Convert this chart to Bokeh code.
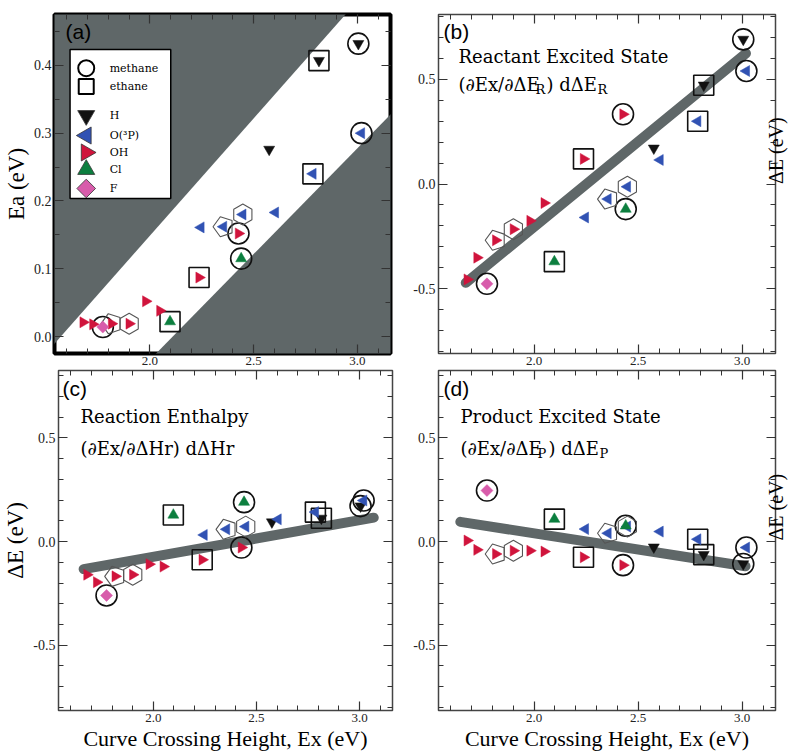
import math
from bokeh.plotting import figure
from bokeh.layouts import column, row
from bokeh.models import (Range1d, LinearAxis, SingleIntervalTicker, PrintfTickFormatter,
                          Label, ColumnDataSource, Grid)
from bokeh.embed import file_html
from bokeh.resources import INLINE

# ---------------- data ----------------
# 20 reactions; Ex = curve crossing height (eV), shared by all panels
ex = [3.005, 2.815, 2.575, 3.020, 2.786, 2.605, 2.448, 2.355, 2.246, 2.427,
      2.440, 2.237, 1.980, 2.048, 2.097, 1.900, 1.815, 1.725, 1.678, 1.773]
species = ["H", "H", "H", "O(3P)", "O(3P)", "O(3P)", "O(3P)", "O(3P)", "O(3P)", "OH",
           "Cl", "OH", "OH", "OH", "Cl", "OH", "OH", "OH", "OH", "F"]
alkane = ["methane", "ethane", "", "methane", "ethane", "", "hexagon", "pentagon", "", "methane",
          "methane", "ethane", "", "", "ethane", "hexagon", "pentagon", "", "", "methane"]
ea = [0.432, 0.407, 0.276, 0.300, 0.240, 0.183, 0.180, 0.162, 0.161, 0.152,
      0.115, 0.087, 0.052, 0.038, 0.022, 0.019, 0.019, 0.018, 0.021, 0.014]
de_react = [0.691, 0.472, 0.171, 0.540, 0.300, 0.115, -0.013, -0.072, -0.160, 0.333,
            -0.120, 0.120, -0.176, -0.091, -0.371, -0.216, -0.269, -0.352, -0.456, -0.477]
de_enth = [0.171, 0.112, 0.094, 0.198, 0.142, 0.107, 0.072, 0.059, 0.032, -0.029,
           0.190, -0.088, -0.109, -0.121, 0.128, -0.160, -0.168, -0.196, -0.160, -0.260]
de_prod = [-0.108, -0.063, -0.027, -0.029, 0.011, 0.048, 0.072, 0.040, 0.060, -0.114,
           0.076, -0.076, -0.044, -0.048, 0.108, -0.044, -0.060, -0.040, 0.005, 0.246]

fit_react_x = [1.671, 3.018]
fit_react_y = [-0.472, 0.624]
fit_enth_x = [1.662, 3.069]
fit_enth_y = [-0.133, 0.115]
fit_prod_x = [1.645, 3.016]
fit_prod_y = [0.095, -0.119]

band_slope = [0.346, 0.312]   # upper / lower edge of the white band in (a)
band_x0 = [1.570, 2.110]      # x where each edge crosses Ea = 0

legend_labels = ["methane", "ethane", "H", "O(\u00b3P)", "OH", "Cl", "F"]
legend_keys = ["methane", "ethane", "H", "O(3P)", "OH", "Cl", "F"]

# ---------------- styles / placement ----------------
X0, X1 = 1.54, 3.16
GRAY = "#5f6768"
SP_STYLE = {
    "H": ("inverted_triangle", 0.0, "#111111", 11),
    "O(3P)": ("triangle", math.pi / 2, "#3152b3", 11),
    "OH": ("triangle", -math.pi / 2, "#d0143c", 11),
    "Cl": ("triangle", 0.0, "#0c7f3f", 11),
    "F": ("square", math.pi / 4, "#d85cab", 8.5),
}
# legend box of panel (a), in panel (a) data units
LEG_BOX = (1.615, 2.1005, 0.2036, 0.4234)
LEG_MARK_X = 1.693
LEG_TEXT_X = 1.806
LEG_ROW_Y = [0.3958, 0.3688, 0.3260, 0.2965, 0.2715, 0.2464, 0.2184]

SANS = "Liberation Sans"
SERIF = "Liberation Serif"


def make_panel(width, height, yr, bl, br, bt, bb, yint, yminor, ow, oc):
    p = figure(width=width, height=height, x_range=Range1d(X0, X1), y_range=Range1d(*yr),
               output_backend="svg", toolbar_location=None,
               x_axis_location=None, y_axis_location=None,
               min_border_left=bl, min_border_right=br, min_border_top=bt, min_border_bottom=bb)
    for g in p.select(type=Grid):
        g.visible = False
    p.outline_line_color = oc
    p.outline_line_width = ow
    p.background_fill_color = "white"
    p.border_fill_color = "white"
    xt = SingleIntervalTicker(interval=0.5, num_minor_ticks=5)
    yt = SingleIntervalTicker(interval=yint, num_minor_ticks=yminor)
    fmt = PrintfTickFormatter(format="%.1f")
    axes = {}
    for side, t, show, fs in (("below", xt, True, "13px"), ("above", xt, False, None),
                              ("left", yt, True, "14px"), ("right", yt, False, None)):
        ax = LinearAxis(ticker=t, formatter=fmt)
        ax.axis_line_color = None
        ax.major_tick_in = 9
        ax.major_tick_out = 0
        ax.minor_tick_in = 5
        ax.minor_tick_out = 0
        ax.major_tick_line_color = "#333333"
        ax.minor_tick_line_color = "#333333"
        ax.major_tick_line_width = 1.2
        ax.minor_tick_line_width = 1
        if show:
            ax.major_label_text_font = SERIF
            ax.major_label_text_font_size = fs
            ax.major_label_text_color = "#222222"
            ax.major_label_standoff = 3
        else:
            ax.major_label_text_font_size = "1px"
            ax.major_label_text_color = None
            ax.major_label_standoff = 0
        p.add_layout(ax, side)
        axes[side] = ax
    return p, axes


def axis_title(ax, text, size=23, standoff=2, orient=None):
    ax.axis_label = text
    ax.axis_label_text_font = SERIF
    ax.axis_label_text_font_size = f"{size}px"
    ax.axis_label_text_font_style = "normal"
    ax.axis_label_text_color = "black"
    ax.axis_label_standoff = standoff
    if orient is not None:
        try:
            ax.axis_label_orientation = orient
        except Exception:
            pass


def lab(p, text, x, y, size, font="DejaVu Serif", units="screen", baseline="alphabetic"):
    p.add_layout(Label(x=x, y=y, x_units=units, y_units=units, text=text,
                       text_font=font, text_font_size=f"{size}px",
                       text_align="left", text_baseline=baseline, text_color="black"))


def outer_shape(p, shape, xs, ys):
    if shape == "methane":
        p.scatter(xs, ys, marker="circle", size=21, fill_color=None,
                  line_color="#111111", line_width=1.6)
    elif shape == "ethane":
        p.scatter(xs, ys, marker="square", size=20, fill_color=None,
                  line_color="#111111", line_width=1.6)
    elif shape == "hexagon":
        p.scatter(xs, ys, marker="hex", size=21, angle=math.pi / 2, fill_color=None,
                  line_color="#555555", line_width=1.1)
    else:
        if hasattr(p, "ngon"):
            p.ngon(x=xs, y=ys, radius=10.5, radius_units="screen", n=5, angle=math.pi / 2,
                   fill_color=None, line_color="#555555", line_width=1.1)
        else:
            p.scatter(xs, ys, marker="hex", size=20, fill_color=None,
                      line_color="#555555", line_width=1.1)


def draw_points(p, yvals):
    for shape in ("methane", "ethane", "hexagon", "pentagon"):
        idx = [i for i, a in enumerate(alkane) if a == shape]
        outer_shape(p, shape, [ex[i] for i in idx], [yvals[i] for i in idx])
    src = ColumnDataSource(dict(
        x=ex, y=yvals,
        marker=[SP_STYLE[s][0] for s in species],
        angle=[SP_STYLE[s][1] for s in species],
        color=[SP_STYLE[s][2] for s in species],
        size=[SP_STYLE[s][3] for s in species]))
    p.scatter("x", "y", source=src, marker="marker", angle="angle", size="size",
              fill_color="color", line_color="color", line_width=0.5)


# ---------------- (a) ----------------
pa, axa = make_panel(400, 369, (-0.025, 0.475), 51, 10, 14, 16, 0.1, 2, 4, "black")
axis_title(axa["left"], "Ea (eV)")
xa = [X0 - 0.3, X1 + 0.3]
edge_u = [band_slope[0] * (x - band_x0[0]) for x in xa]
edge_l = [band_slope[1] * (x - band_x0[1]) for x in xa]
pa.patch([xa[0], xa[1], xa[1], xa[0]], [edge_u[0], edge_u[1], 2.0, 2.0], color=GRAY, line_width=0)
pa.patch([xa[0], xa[1], xa[1], xa[0]], [edge_l[0], edge_l[1], -2.0, -2.0], color=GRAY, line_width=0)
draw_points(pa, ea)
# legend (drawn by hand so the rotated triangles keep their direction)
pa.quad(left=[LEG_BOX[0]], right=[LEG_BOX[1]], bottom=[LEG_BOX[2]], top=[LEG_BOX[3]],
        fill_color="white", line_color="black", line_width=1.5)
for key, text, yy in zip(legend_keys, legend_labels, LEG_ROW_Y):
    if key == "methane":
        pa.scatter([LEG_MARK_X], [yy], marker="circle", size=16, fill_color=None,
                   line_color="black", line_width=2)
    elif key == "ethane":
        pa.scatter([LEG_MARK_X], [yy], marker="square", size=15, fill_color=None,
                   line_color="black", line_width=2)
    else:
        m, ang, c, s = SP_STYLE[key]
        pa.scatter([LEG_MARK_X], [yy], marker=m, angle=ang, size=s * 1.55, fill_color=c,
                   line_color="#333333", line_width=0.8)
    lab(pa, text, LEG_TEXT_X, yy, 11, units="data", baseline="middle")
lab(pa, "(a)", 11, 322, 21, font=SANS)

# ---------------- (b) ----------------
pb, axb = make_panel(400, 369, (-0.81, 0.81), 38, 23, 14, 16, 0.5, 5, 1.5, "#444444")
axis_title(axb["right"], "\u0394E (eV)", size=20, standoff=0, orient=math.pi / 2)
pb.line(fit_react_x, fit_react_y, line_width=10, color=GRAY, line_cap="round")
draw_points(pb, de_react)
lab(pb, "(b)", 5, 322, 21, font=SANS)
lab(pb, "Reactant Excited State", 20, 297, 18)
lab(pb, "(\u2202Ex/\u2202\u0394E", 20, 269, 18)
lab(pb, "R", 20 + 77, 264, 13)
lab(pb, ") d\u0394E", 20 + 88, 269, 18)
lab(pb, "R", 20 + 139, 264, 13)

# ---------------- (c) ----------------
pc, axc = make_panel(400, 384, (-0.815, 0.825), 53, 8, 1, 42, 0.5, 5, 1.5, "#444444")
axis_title(axc["left"], "\u0394E (eV)")
axis_title(axc["below"], "Curve Crossing Height, Ex (eV)", size=22, standoff=1)
pc.line(fit_enth_x, fit_enth_y, line_width=10, color=GRAY, line_cap="round")
draw_points(pc, de_enth)
lab(pc, "(c)", 4, 322, 21, font=SANS)
lab(pc, "Reaction Enthalpy", 22, 294, 18)
lab(pc, "(\u2202Ex/\u2202\u0394Hr) d\u0394Hr", 22, 262, 18)

# ---------------- (d) ----------------
pd_, axd = make_panel(400, 384, (-0.815, 0.825), 38, 23, 1, 42, 0.5, 5, 1.5, "#444444")
axis_title(axd["right"], "\u0394E (eV)", size=20, standoff=0, orient=math.pi / 2)
axis_title(axd["below"], "Curve Crossing Height, Ex (eV)", size=22, standoff=1)
pd_.line(fit_prod_x, fit_prod_y, line_width=10, color=GRAY, line_cap="round")
draw_points(pd_, de_prod)
lab(pd_, "(d)", 5, 322, 21, font=SANS)
lab(pd_, "Product Excited State", 22, 294, 18)
lab(pd_, "(\u2202Ex/\u2202\u0394E", 22, 262, 18)
lab(pd_, "P", 22 + 77, 257, 13)
lab(pd_, ") d\u0394E", 22 + 88, 262, 18)
lab(pd_, "P", 22 + 139, 257, 13)

layout = column(row(pa, pb), row(pc, pd_))
open("out.html", "w").write(file_html(layout, INLINE))
